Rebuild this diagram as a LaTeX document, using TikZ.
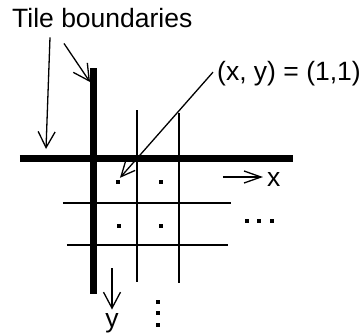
\documentclass[tikz,border=0pt]{standalone}
\usepackage{fontspec}
\setmainfont{Liberation Sans}
\usepackage{tikz}
\usetikzlibrary{arrows.meta,positioning}
\tikzset{
  tileline/.style={draw=black,line width=7pt},
  gridline/.style={draw=black,line width=1.5pt},
  txt/.style={inner sep=0pt,font=\fontsize{26.5}{31}\selectfont},
  pointer/.style={-{Straight Barb[length=16pt,width=17pt]},draw=black,line width=1.3pt},
  cellpt/.style={fill=black,minimum size=3.5pt,inner sep=0pt}
}

\begin{document}
\begin{tikzpicture}[x=1pt,y=-1pt]
  \useasboundingbox (0,0) rectangle (360,333);
  % grid
  \draw[gridline] (137,110) -- (137,282);
  \draw[gridline] (179,113) -- (179,283);
  \draw[gridline] (63,203) -- (231,203);
  \draw[gridline] (67,245) -- (228,245);
  \draw[tileline] (20,158.5) -- (293,158.5);
  \draw[tileline] (94,68) -- (94,294);
  % pixels
  \node[cellpt] (p11) at (118,182) {};
  \node[cellpt] (p21) at (161,182) {};
  \node[cellpt] (p12) at (119,226) {};
  \node[cellpt] (p22) at (161,226) {};
  \foreach \i/\x in {1/247,2/259,3/272}
    \node[cellpt] (hd\i) at (\x,221) {};
  \foreach \i/\y in {1/302,2/313,3/325}
    \node[cellpt] (vd\i) at (158,\y) {};
  % labels
  \node[txt,anchor=base west] (tb) at (12,27) {Tile boundaries};
  \node[txt,anchor=base west] (xy) at (217,80) {(x, y) = (1,1)};
  \node[txt,anchor=base west] (xl) at (267,186) {x};
  \node[txt,anchor=north] (yl) at (112,313.5) {y};
  \coordinate (hb) at (46,149);
  \coordinate (vb) at (90,82);
  \coordinate (xa) at (223,177);
  \coordinate (ya) at (112,268);
  % arrows
  \draw[pointer] ([xshift=38pt,yshift=-10pt]tb.south west) -- (hb);
  \draw[pointer] ([xshift=52pt,yshift=-16pt]tb.south west) -- (vb);
  \draw[pointer,-{Straight Barb[length=14pt,width=13pt]},shorten >=3pt] ([xshift=-4pt,yshift=1pt]xy.west) -- (p11.north);
  \draw[pointer,-{Straight Barb[length=17pt,width=12pt]}] (xa) -- (263,177);
  \draw[pointer] (ya) -- ([yshift=4pt]yl.north);
\end{tikzpicture}
\end{document}
